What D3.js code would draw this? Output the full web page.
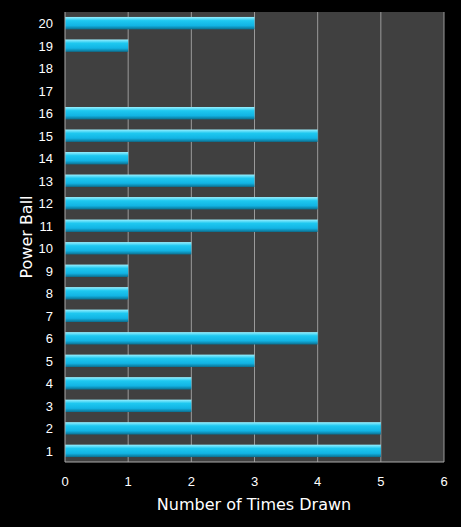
<!DOCTYPE html><html><head><script src="https://cdn.jsdelivr.net/npm/d3@7"></script>
<style>body{margin:0;background:#000}</style></head><body><svg width="461" height="527"></svg><script>
const categories=["1","2","3","4","5","6","7","8","9","10","11","12","13","14","15","16","17","18","19","20"];
const values=[5,5,2,2,3,4,1,1,1,2,4,4,3,1,4,3,0,0,1,3];
const xTicks=[0,1,2,3,4,5,6];
const svg=d3.select("svg");
const L=65,R=444,T=12,B=462;
const x=d3.scaleLinear().domain([0,6]).range([L,R]);
const y=d3.scaleBand().domain(categories.slice().reverse()).range([T,B]).paddingInner(0.45).paddingOuter(0.22);
svg.append("rect").attr("width",461).attr("height",527).attr("fill","#000");
svg.append("rect").attr("x",L).attr("y",T).attr("width",R-L).attr("height",B-T).attr("fill","#404040");
const defs=svg.append("defs");
const g=defs.append("linearGradient").attr("id","bg").attr("x1",0).attr("x2",0).attr("y1",0).attr("y2",1);
[[0,"#9af0ff"],[0.3,"#1ec8f0"],[0.7,"#12b4e4"],[1,"#0a6f90"]].forEach(s=>g.append("stop").attr("offset",s[0]).attr("stop-color",s[1]));
svg.selectAll(".gl").data(xTicks.slice(1)).enter().append("line").attr("x1",d=>x(d)).attr("x2",d=>x(d)).attr("y1",T).attr("y2",B).attr("stroke","#9a9a9a").attr("stroke-width",1);
svg.selectAll(".bar").data(values).enter().append("rect").attr("x",L).attr("y",(d,i)=>y(categories[i])).attr("width",d=>x(d)-L).attr("height",y.bandwidth()).attr("fill","url(#bg)");
svg.append("line").attr("x1",L).attr("x2",L).attr("y1",T).attr("y2",B).attr("stroke","#aaa");
svg.append("line").attr("x1",L).attr("x2",R).attr("y1",B).attr("y2",B).attr("stroke","#aaa");
svg.selectAll(".xt").data(xTicks).enter().append("text").attr("x",d=>x(d)).attr("y",486).attr("text-anchor","middle").attr("fill","#fff").attr("font-family","Liberation Sans, Arial").attr("font-size",13).text(d=>d);
svg.selectAll(".yt").data(categories).enter().append("text").attr("x",53).attr("y",d=>y(d)+y.bandwidth()/2+5).attr("text-anchor","end").attr("fill","#fff").attr("font-family","Liberation Sans, Arial").attr("font-size",13).text(d=>d);
svg.append("text").attr("x",254).attr("y",510).attr("text-anchor","middle").attr("fill","#fff").attr("font-family","DejaVu Sans, Arial").attr("font-size",16).text("Number of Times Drawn");
svg.append("text").attr("transform","translate(32,237) rotate(-90)").attr("text-anchor","middle").attr("fill","#fff").attr("font-family","DejaVu Sans, Arial").attr("font-size",16).text("Power Ball");
</script></body></html>
